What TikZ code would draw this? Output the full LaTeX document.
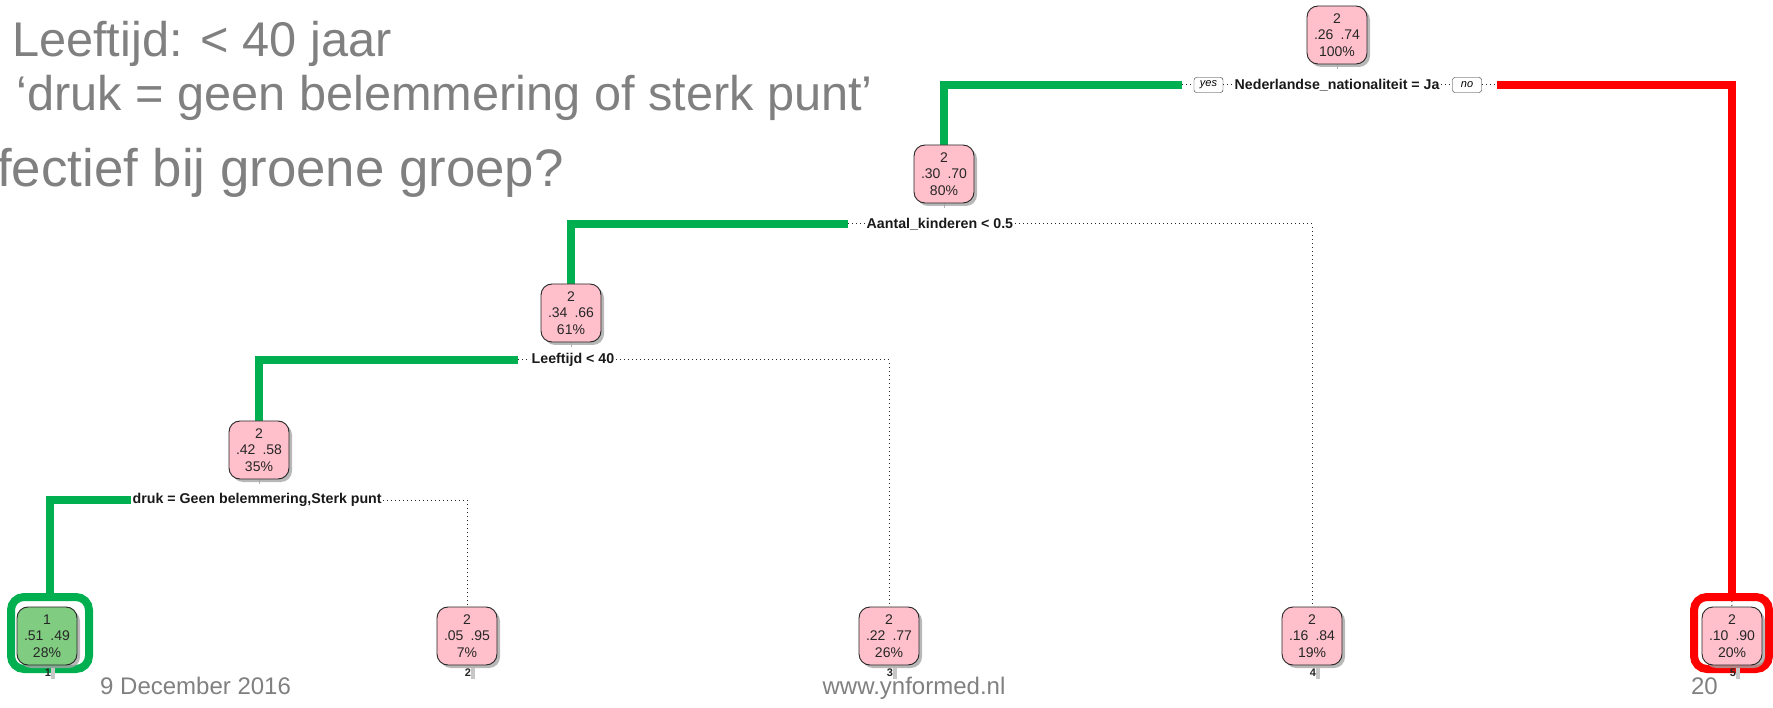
\documentclass[tikz,border=0pt]{standalone}
\usepackage{fontspec}
\setmainfont{Liberation Sans}
\usetikzlibrary{shadows}
\definecolor{txtgray}{HTML}{808080}
\definecolor{nodepink}{HTML}{FFC0CB}
\definecolor{leafgreen}{HTML}{80CC80}
\definecolor{hlgreen}{HTML}{00B050}
\definecolor{hlred}{HTML}{FF0000}
\pgfdeclarelayer{bg}
\pgfsetlayers{bg,main}
\newcommand{\probs}[3]{#1\\#2\hspace{7pt}#3}
\begin{document}
\begin{tikzpicture}[x=1pt,y=-1pt,
  tnode/.style={draw=black!85, line width=0.9pt, fill=nodepink, rounded corners=11pt,
    minimum width=60pt, minimum height=58pt, inner sep=0pt, align=center,
    font=\fontsize{14pt}{16.5pt}\selectfont, text=black!85,
    drop shadow={shadow xshift=3pt, shadow yshift=-3pt, fill=black!35, opacity=0.8}},
  leafg/.style={tnode, fill=leafgreen},
  split/.style={inner sep=1.5pt, font=\bfseries\fontsize{14.2pt}{16pt}\selectfont, text=black!90},
  tag/.style={draw=black!85, rounded corners=2.5pt, inner sep=0pt, minimum width=29pt,
    minimum height=15pt, font=\itshape\fontsize{11pt}{12pt}\selectfont},
  dots/.style={draw=black!85, line width=1pt, dash pattern=on 1.1pt off 2.9pt},
  gline/.style={draw=hlgreen, line width=8pt},
  rline/.style={draw=hlred, line width=8pt},
  hlbox/.style={line width=8pt, rounded corners=13pt, minimum width=78pt, minimum height=72pt, inner sep=0pt},
  stub/.style={draw=black!30, line width=1pt},
  leafno/.style={inner sep=0pt, minimum height=11pt, minimum width=14pt, font=\bfseries\fontsize{11pt}{12pt}\selectfont, text=black!85,
    path picture={\fill[black!22] ([xshift=-4pt]path picture bounding box.north east) rectangle (path picture bounding box.south east);}},
  heading/.style={anchor=base west, inner sep=0pt, text=txtgray},
  footer/.style={inner sep=0pt, text=txtgray, font=\fontsize{24pt}{28pt}\selectfont}
]
\useasboundingbox (0,0) rectangle (1773,708);

% slide text
\node[heading, font=\fontsize{48.7pt}{58pt}\selectfont] (h1) at (12,57) {Leeftijd: < 40 jaar};
\node[heading, font=\fontsize{48.7pt}{58pt}\selectfont] (h2) at (16,111) {‘druk = geen belemmering of sterk punt’};
\node[heading, font=\fontsize{52.8pt}{63pt}\selectfont] (h3) at (-3,187) {fectief bij groene groep?};

% highlight frames around the two leaves of interest
\node[hlbox, draw=hlgreen] (l1box) at (50,633) {};
\node[hlbox, draw=hlred, minimum width=75pt] (l5box) at (1731.5,633) {};

% internal nodes
\node[tnode] (n1) at (1337,35) {\probs{2}{.26}{.74}\\100\%};
\node[tnode] (n2) at (944,174) {\probs{2}{.30}{.70}\\80\%};
\node[tnode] (n3) at (571,313) {\probs{2}{.34}{.66}\\61\%};
\node[tnode] (n4) at (259,450) {\probs{2}{.42}{.58}\\35\%};

% leaves
\node[leafg] (l1) at (47,636) {\probs{1}{.51}{.49}\\28\%};
\node[tnode] (l2) at (467,636) {\probs{2}{.05}{.95}\\7\%};
\node[tnode] (l3) at (889,636) {\probs{2}{.22}{.77}\\26\%};
\node[tnode] (l4) at (1312,636) {\probs{2}{.16}{.84}\\19\%};
\node[tnode] (l5) at (1732,636) {\probs{2}{.10}{.90}\\20\%};

% leaf numbers
\node[leafno] (k1) at (48,673) {1\hspace{4pt}};
\node[leafno] (k2) at (468,673) {2\hspace{4pt}};
\node[leafno] (k3) at (890,673) {3\hspace{4pt}};
\node[leafno] (k4) at (1313,673) {4\hspace{4pt}};
\node[leafno] (k5) at (1733,673) {5\hspace{4pt}};

% split labels
\node[tag] (yes) at (1208.5,85) {yes};
\node[split, anchor=west] (s1) at (1233,85) {Nederlandse\_nationaliteit = Ja};
\node[tag] (no) at (1467,85) {no};
\node[split, anchor=west] (s2) at (865,224) {Aantal\_kinderen < 0.5};
\node[split, anchor=west] (s3) at (530,360) {Leeftijd < 40};
\node[split, anchor=west] (s4) at (131,500) {druk = Geen belemmering,Sterk punt};

\coordinate (g1) at (1182,85);
\coordinate (r1) at (1497,85);
\coordinate (g2) at (848,224);
\coordinate (g3) at (518,360);

\begin{pgfonlayer}{bg}
  % short stubs below the internal nodes
  \foreach \n in {n1,n2,n3,n4} \draw[stub] (\n.south) -- ++(0,5);
  % dotted branches
  \draw[dots] (g1) -- (yes.west);
  \draw[dots] (yes.east) -- (s1.west);
  \draw[dots] (s1.east) -- (no.west);
  \draw[dots] (no.east) -- (r1);
  \draw[dots] (l5box.north) -- (l5.north);
  \draw[dots] (g2) -- (s2.west);
  \draw[dots] (s2.east) -| (l4.north);
  \draw[dots] (g3) -- (s3.west);
  \draw[dots] (s3.east) -| (l3.north);
  \draw[dots] (s4.east) -| (l2.north);
  % highlighted paths
  \draw[gline] (g1) -| (n2.north);
  \draw[gline] (g2) -| (n3.north);
  \draw[gline] (g3) -| (n4.north);
  \draw[gline] (s4.west) -| (l1box.north);
  \draw[rline] (r1) -| (l5box.north);
\end{pgfonlayer}

% footer
\node[footer, anchor=base west] (date) at (100,694) {9 December 2016};
\node[footer, anchor=base] (web) at (914,694) {www.ynformed.nl};
\node[footer, anchor=base east] (page) at (1718,694) {20};
\end{tikzpicture}
\end{document}
